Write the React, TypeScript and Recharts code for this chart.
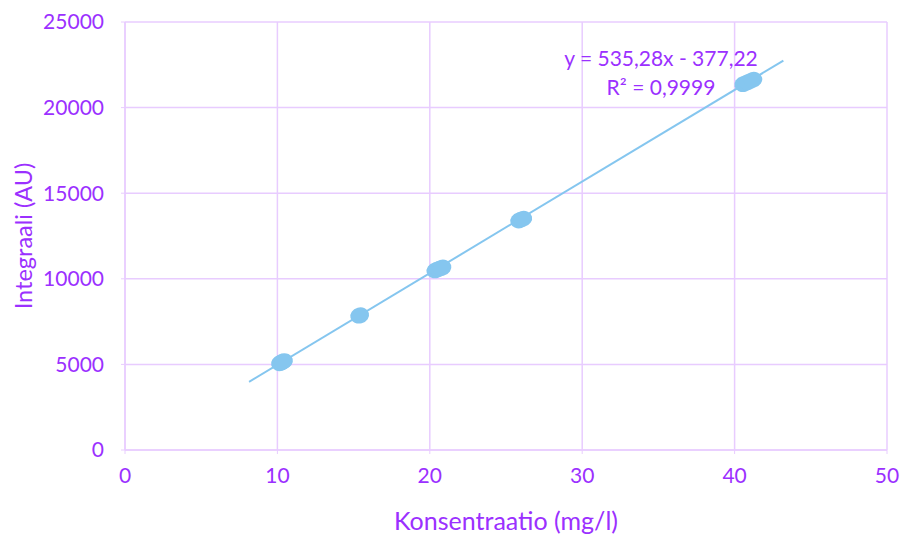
import { ScatterChart, Scatter, XAxis, YAxis, CartesianGrid } from "recharts";

// replicate measurements (mg/l, integral AU)
const concentrations = [10.2, 10.3, 10.4, 15.4, 20.4, 20.6, 20.8, 25.9, 26.1, 40.6, 40.9, 41.2];
const integrals = [5080, 5130, 5180, 7860, 10500, 10580, 10650, 13420, 13500, 21380, 21500, 21620];

const slope = 535.28;
const intercept = -377.22;
const trendRange = [8.14, 43.2];

const xTicks = [0, 10, 20, 30, 40, 50];
const yTicks = [0, 5000, 10000, 15000, 20000, 25000];

const points = concentrations.map((x, i) => ({ x, y: integrals[i] }));
const trend = trendRange.map((x) => ({ x, y: slope * x + intercept }));

const PURPLE = "#9B30FF";
const GRID = "#E8CCFF";
const BLUE = "#85C6EF";
const FONT = "Lato, 'Open Sans', sans-serif";

const Blob = (props: any) => {
  const { cx, cy } = props;
  return <ellipse cx={cx} cy={cy} rx={9.5} ry={8} fill={BLUE} transform={`rotate(-15 ${cx} ${cy})`} />;
};

export default function App() {
  return (
    <div style={{ position: "absolute", left: 0, top: 0, width: 902, height: 536, background: "#fff", fontFamily: FONT }}>
      <ScatterChart width={902} height={536} margin={{ top: 22, right: 15, bottom: 0, left: 0 }}>
        <CartesianGrid stroke={GRID} strokeWidth={1.5} horizontalValues={yTicks} verticalValues={xTicks} />
        <XAxis
          type="number"
          dataKey="x"
          domain={[0, 50]}
          ticks={xTicks}
          height={86}
          axisLine={{ stroke: GRID, strokeWidth: 1.5 }}
          tickLine={{ stroke: GRID }}
          tickSize={4}
          tickMargin={14}
          tick={{ fill: PURPLE, fontSize: 21, fontFamily: FONT }}
          label={{ value: "Konsentraatio (mg/l)", position: "insideBottom", offset: 6, fill: PURPLE, fontSize: 25, fontFamily: FONT }}
        />
        <YAxis
          type="number"
          dataKey="y"
          domain={[0, 25000]}
          ticks={yTicks}
          width={125}
          axisLine={{ stroke: GRID, strokeWidth: 1.5 }}
          tickLine={{ stroke: GRID }}
          tickSize={4}
          tickMargin={17}
          tick={{ fill: PURPLE, fontSize: 21, fontFamily: FONT }}
          label={{ value: "Integraali (AU)", angle: -90, position: "insideLeft", offset: 24, fill: PURPLE, fontSize: 23.5, fontFamily: FONT, style: { textAnchor: "middle" } }}
        />
        <Scatter data={trend} line={{ stroke: BLUE, strokeWidth: 2 }} shape={() => null} isAnimationActive={false} />
        <Scatter data={points} fill={BLUE} shape={Blob} isAnimationActive={false} />
      </ScatterChart>
      <div style={{ position: "absolute", left: 550, top: 43, width: 222, textAlign: "center", color: PURPLE, fontSize: 21, lineHeight: "29px" }}>
        <div>y = 535,28x - 377,22</div>
        <div>R² = 0,9999</div>
      </div>
    </div>
  );
}
